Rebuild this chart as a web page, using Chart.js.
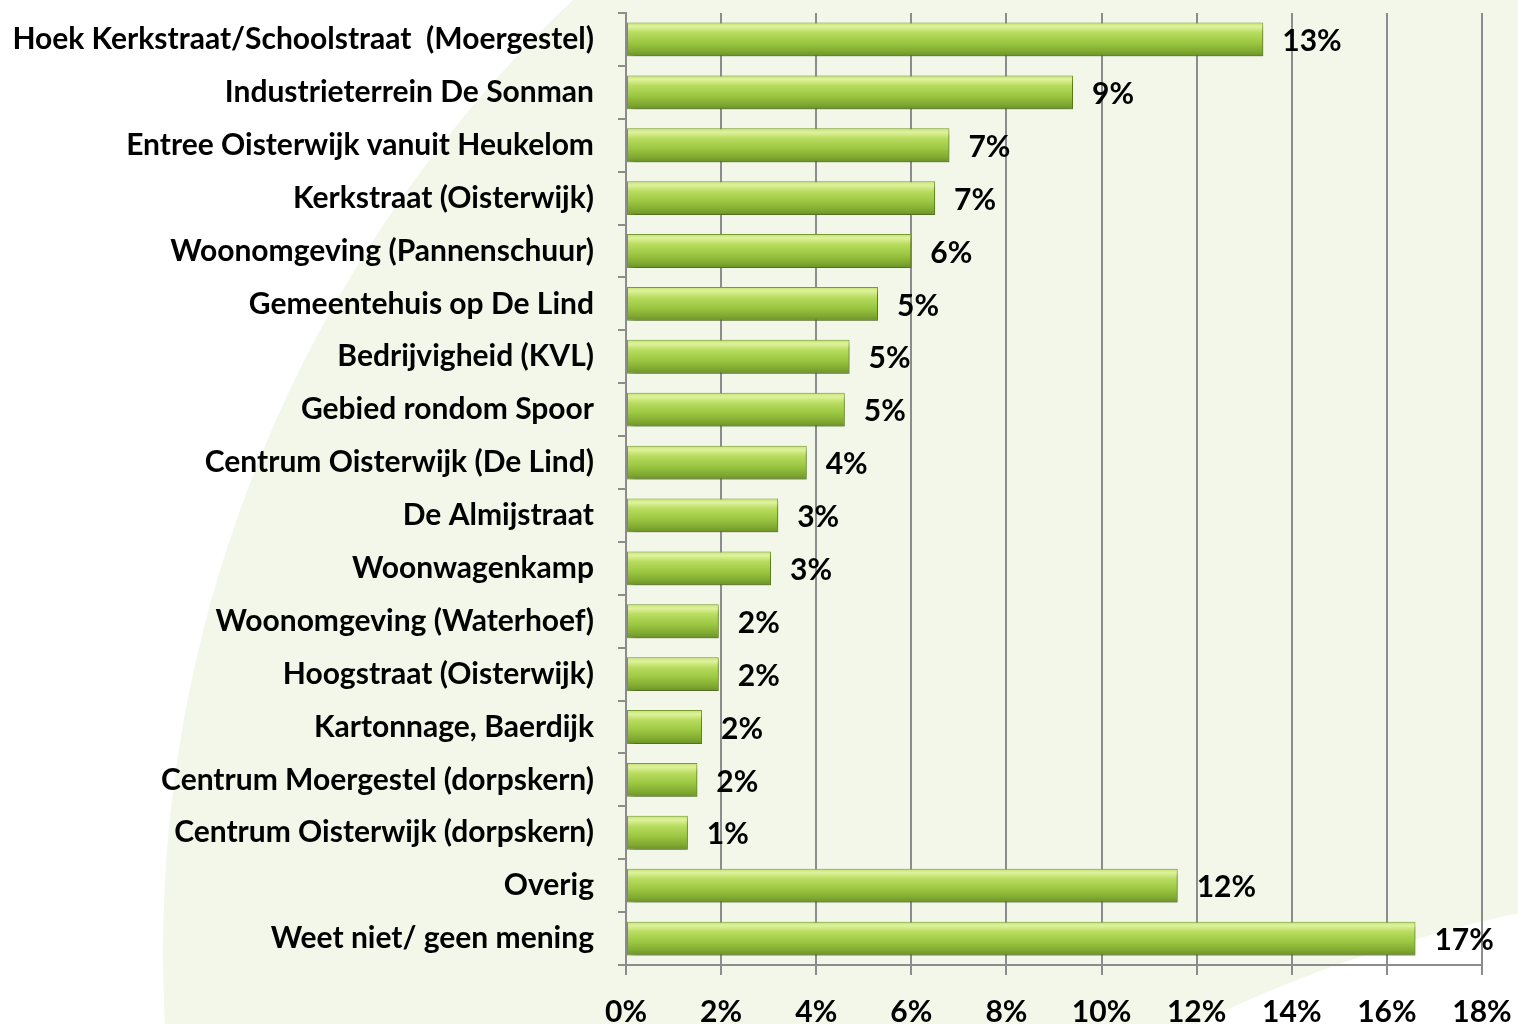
<!DOCTYPE html>
<html>
<head>
<meta charset="utf-8">
<script src="https://cdn.jsdelivr.net/npm/chart.js@4/dist/chart.umd.min.js"></script>
<style>
  html, body { margin: 0; padding: 0; background: #ffffff; }
  #wrap { width: 1518px; height: 1024px; }
</style>
</head>
<body>
<div id="wrap"><canvas id="c" width="1518" height="1024"></canvas></div>
<script>
const categories = [
  "Hoek Kerkstraat/Schoolstraat  (Moergestel)",
  "Industrieterrein De Sonman",
  "Entree Oisterwijk vanuit Heukelom",
  "Kerkstraat (Oisterwijk)",
  "Woonomgeving (Pannenschuur)",
  "Gemeentehuis op De Lind",
  "Bedrijvigheid (KVL)",
  "Gebied rondom Spoor",
  "Centrum Oisterwijk (De Lind)",
  "De Almijstraat",
  "Woonwagenkamp",
  "Woonomgeving (Waterhoef)",
  "Hoogstraat (Oisterwijk)",
  "Kartonnage, Baerdijk",
  "Centrum Moergestel (dorpskern)",
  "Centrum Oisterwijk (dorpskern)",
  "Overig",
  "Weet niet/ geen mening"
];
const values = [13.4, 9.4, 6.8, 6.5, 6.0, 5.3, 4.7, 4.6, 3.8, 3.2, 3.05, 1.95, 1.95, 1.6, 1.5, 1.3, 11.6, 16.6];
const valueLabels = ["13%", "9%", "7%", "7%", "6%", "5%", "5%", "5%", "4%", "3%", "3%", "2%", "2%", "2%", "2%", "1%", "12%", "17%"];
const xTicks = [0, 2, 4, 6, 8, 10, 12, 14, 16, 18];

const FONT = "Lato, 'Open Sans', sans-serif";

const bgPlugin = {
  id: 'bg',
  beforeDraw(chart) {
    const c = chart.ctx;
    c.save();
    c.fillStyle = '#ffffff';
    c.fillRect(0, 0, chart.width, chart.height);
    c.beginPath();
    c.arc(1476, 953, 1313, 0, Math.PI * 2);
    c.fillStyle = '#f2f7ea';
    c.fill();
    c.beginPath();
    c.arc(1813, 2291, 1409, 0, Math.PI * 2);
    c.fillStyle = '#ffffff';
    c.fill();
    c.restore();
  }
};

const shadowPlugin = {
  id: 'barShadow',
  beforeDatasetsDraw(chart) {
    const c = chart.ctx;
    c.save();
    c.shadowColor = 'rgba(0,0,0,0.35)';
    c.shadowBlur = 6;
    c.shadowOffsetX = 3;
    c.shadowOffsetY = 4;
  },
  afterDatasetsDraw(chart) {
    const c = chart.ctx;
    c.restore();
    const meta = chart.getDatasetMeta(0);
    c.save();
    c.font = "bold 30px " + FONT;
    c.fillStyle = '#000000';
    c.textAlign = 'left';
    c.textBaseline = 'middle';
    meta.data.forEach((el, i) => {
      c.fillText(valueLabels[i], el.x + 19, el.y + 2);
    });
    c.restore();
  }
};

function barGradient(context) {
  const chart = context.chart;
  const ys = chart.scales && chart.scales.y;
  if (!ys || context.dataIndex === undefined) return '#a2cb4a';
  const yc = ys.getPixelForValue(context.dataIndex);
  const step = Math.abs(ys.getPixelForValue(1) - ys.getPixelForValue(0));
  const half = step * 0.64 / 2;
  if (!isFinite(yc) || !isFinite(half) || half <= 0) return '#a2cb4a';
  const g = chart.ctx.createLinearGradient(0, yc - half, 0, yc + half);
  g.addColorStop(0, '#c4e270');
  g.addColorStop(0.12, '#dff29c');
  g.addColorStop(0.3, '#b8dc5f');
  g.addColorStop(0.6, '#9bc742');
  g.addColorStop(0.85, '#80aa31');
  g.addColorStop(1, '#6a9127');
  return g;
}

new Chart(document.getElementById('c'), {
  type: 'bar',
  data: {
    labels: categories,
    datasets: [{
      data: values,
      backgroundColor: barGradient,
      borderColor: '#7a9e33',
      borderWidth: 1,
      borderSkipped: false,
      barPercentage: 0.8,
      categoryPercentage: 0.8
    }]
  },
  options: {
    indexAxis: 'y',
    responsive: false,
    animation: false,
    devicePixelRatio: 1,
    layout: { padding: { top: 13, right: 36, left: 0, bottom: 0 } },
    plugins: { legend: { display: false }, tooltip: { enabled: false } },
    scales: {
      x: {
        type: 'linear',
        min: 0,
        max: 18,
        afterBuildTicks(scale) { scale.ticks = xTicks.map(v => ({ value: v })); },
        afterFit(scale) { scale.height = 59; scale.paddingLeft = 0; scale.paddingRight = 0; },
        border: { display: true, color: '#8c8c8c', width: 2 },
        grid: { display: true, color: '#8c8c8c', lineWidth: 2, drawTicks: true, tickLength: 10 },
        ticks: {
          color: '#000000',
          font: { family: FONT, size: 30, weight: 'bold' },
          padding: 19,
          maxRotation: 0,
          callback: (v) => v + '%'
        }
      },
      y: {
        afterFit(scale) { scale.width = 626; scale.paddingTop = 0; scale.paddingBottom = 0; },
        border: { display: true, color: '#8c8c8c', width: 2 },
        grid: { display: true, drawOnChartArea: false, color: '#8c8c8c', lineWidth: 2, drawTicks: true, tickLength: 8, offset: true },
        ticks: {
          color: '#000000',
          font: { family: FONT, size: 30, weight: 'bold' },
          padding: 24,
          autoSkip: false
        }
      }
    }
  },
  plugins: [bgPlugin, shadowPlugin]
});
</script>
</body>
</html>
